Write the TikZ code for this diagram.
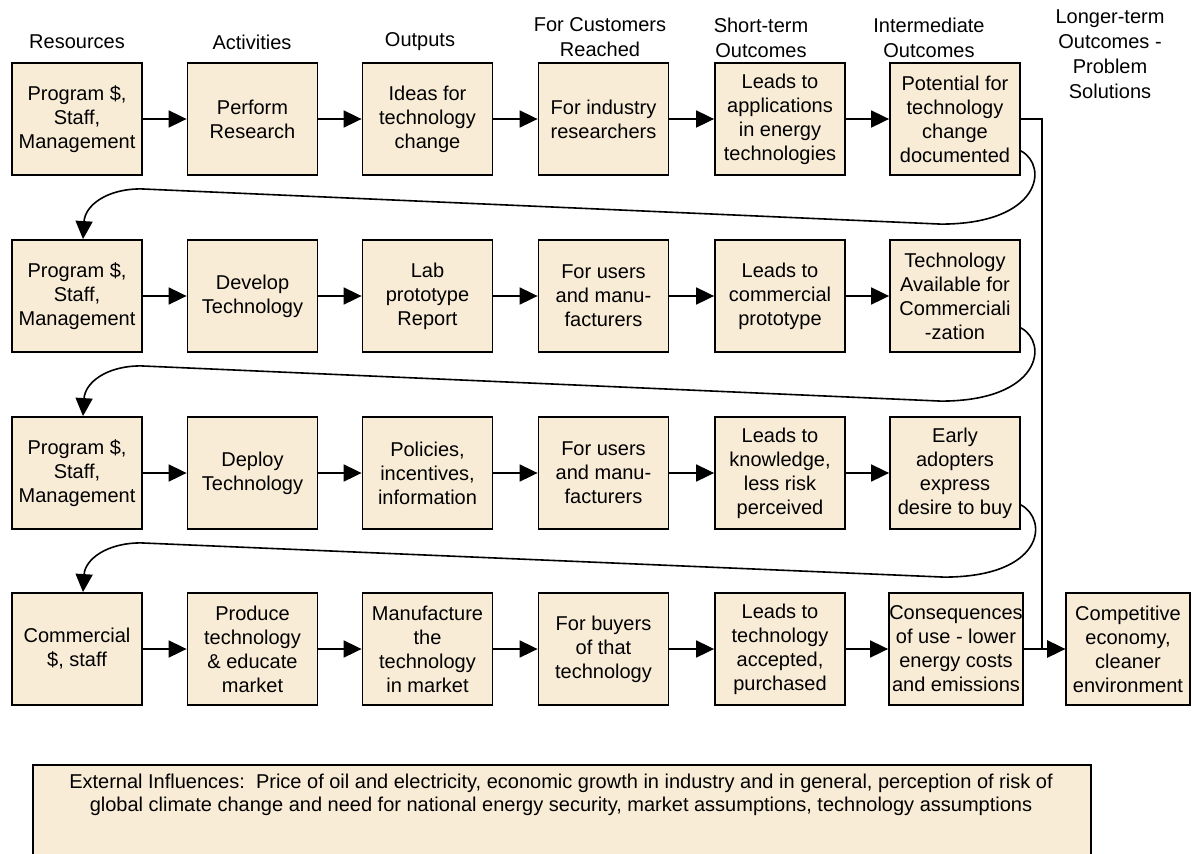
\documentclass[tikz,border=0pt]{standalone}
\usepackage{fontspec}
\setmainfont{Liberation Sans}
\usetikzlibrary{arrows.meta,calc}
\definecolor{boxfill}{RGB}{249,236,214}
\begin{document}
\begin{tikzpicture}[x=1pt,y=-1pt,
  stage/.style={draw=black,line width=1.8pt,fill=boxfill,minimum width=130pt,
    minimum height=112pt,inner sep=0pt,align=center,font=\fontsize{20}{24}\selectfont},
  head/.style={align=center,inner sep=0pt,font=\fontsize{20}{25}\selectfont},
  flow/.style={line width=1.8pt,-{Triangle[length=18pt,width=17pt]}},
  wrap/.style={line width=1.6pt,-{Triangle[length=18pt,width=17pt]}}]
\useasboundingbox (0,0) rectangle (1192,854);
\clip (0,0) rectangle (1192,854);
\fill[white] (0,0) rectangle (1192,854);

% column headings
\node[head] (hres) at (77,42) {Resources};
\node[head] (hact) at (252,42) {Activities};
\node[head] (hout) at (420,42) {Outputs};
\node[head] (hcus) at (600,37.5) {For Customers\\Reached};
\node[head] (hsho) at (761,37.5) {Short-term\\Outcomes};
\node[head] (hint) at (929,37.5) {Intermediate\\Outcomes};
\node[head] (hlon) at (1110,54.5) {Longer-term\\Outcomes -\\Problem\\Solutions};

% row 1: research
\node[stage] (r1c1) at (77,119)    {Program \$,\\Staff,\\Management};
\node[stage] (r1c2) at (252.5,119) {Perform\\Research};
\node[stage] (r1c3) at (427.5,119) {Ideas for\\technology\\change};
\node[stage] (r1c4) at (603.5,119) {For industry\\researchers};
\node[stage] (r1c5) at (780,119)   {Leads to\\applications\\in energy\\technologies};
\node[stage] (r1c6) at (955,119)   {Potential for\\technology\\change\\documented};

% row 2: development
\node[stage] (r2c1) at (77,296)    {Program \$,\\Staff,\\Management};
\node[stage] (r2c2) at (252.5,296) {Develop\\Technology};
\node[stage] (r2c3) at (427.5,296) {Lab\\prototype\\Report};
\node[stage] (r2c4) at (603.5,296) {For users\\and manu-\\facturers};
\node[stage] (r2c5) at (780,296)   {Leads to\\commercial\\prototype};
\node[stage] (r2c6) at (955,296)   {Technology\\Available for\\Commerciali\\-zation};

% row 3: deployment
\node[stage] (r3c1) at (77,473)    {Program \$,\\Staff,\\Management};
\node[stage] (r3c2) at (252.5,473) {Deploy\\Technology};
\node[stage] (r3c3) at (427.5,473) {Policies,\\incentives,\\information};
\node[stage] (r3c4) at (603.5,473) {For users\\and manu-\\facturers};
\node[stage] (r3c5) at (780,473)   {Leads to\\knowledge,\\less risk\\perceived};
\node[stage] (r3c6) at (955,473)   {Early\\adopters\\express\\desire to buy};

% row 4: market
\node[stage] (r4c1) at (77,649)    {Commercial\\\$, staff};
\node[stage] (r4c2) at (252.5,649) {Produce\\technology\\\& educate\\market};
\node[stage] (r4c3) at (427.5,649) {Manufacture\\the\\technology\\in market};
\node[stage] (r4c4) at (603.5,649) {For buyers\\of that\\technology};
\node[stage] (r4c5) at (780,649)   {Leads to\\technology\\accepted,\\purchased};
\node[stage,minimum width=134pt] (r4c6) at (956,649) {Consequences\\of use - lower\\energy costs\\and emissions};
\node[stage,minimum width=124pt] (r4c7) at (1128,649) {Competitive\\economy,\\cleaner\\environment};

% arrows along each row
\foreach \r in {1,2,3,4}{
  \foreach \a/\b in {1/2,2/3,3/4,4/5,5/6}{
    \draw[flow] (r\r c\a.east) -- (r\r c\b.west);
  }
}
\draw[flow] (r4c6.east) -- (r4c7.west);

% long-term outcome line from the first row
\coordinate (bus) at (1042,119);
\draw[flow] (r1c6.east) -- (bus) |- (r4c7.west);

% wrap-around connectors from the end of one row to the start of the next
\foreach \r/\n in {1/2,2/3,3/4}{
  \draw[wrap]
    ($(r\r c6.south east)+(0,-25)$)
      .. controls ($(r\r c6.south east)+(28,-10)$) and ($(r\n c6.north east)+(20,-15)$)
      .. ($(r\n c6.north east)+(-80,-15)$)
      -- ($(r\r c1.south east)+(-2,13)$)
      .. controls ($(r\r c1.south east)+(-37,13)$) and ($(r\r c1.south)+(8,30)$)
      .. ($(r\n c1.north)+(6,0)$);
}

% external influences panel
\node[draw=black,line width=1.8pt,fill=boxfill,minimum width=1058pt,minimum height=140pt,
  anchor=north west,inner sep=0pt] (ext) at (32,764) {};
\node[align=center,inner sep=0pt,font=\fontsize{20}{23}\selectfont] (exttext) at (561,795)
  {External Influences:\ \ Price of oil and electricity, economic growth in industry and in general, perception of risk of\\
   global climate change and need for national energy security, market assumptions, technology assumptions};
\end{tikzpicture}
\end{document}
